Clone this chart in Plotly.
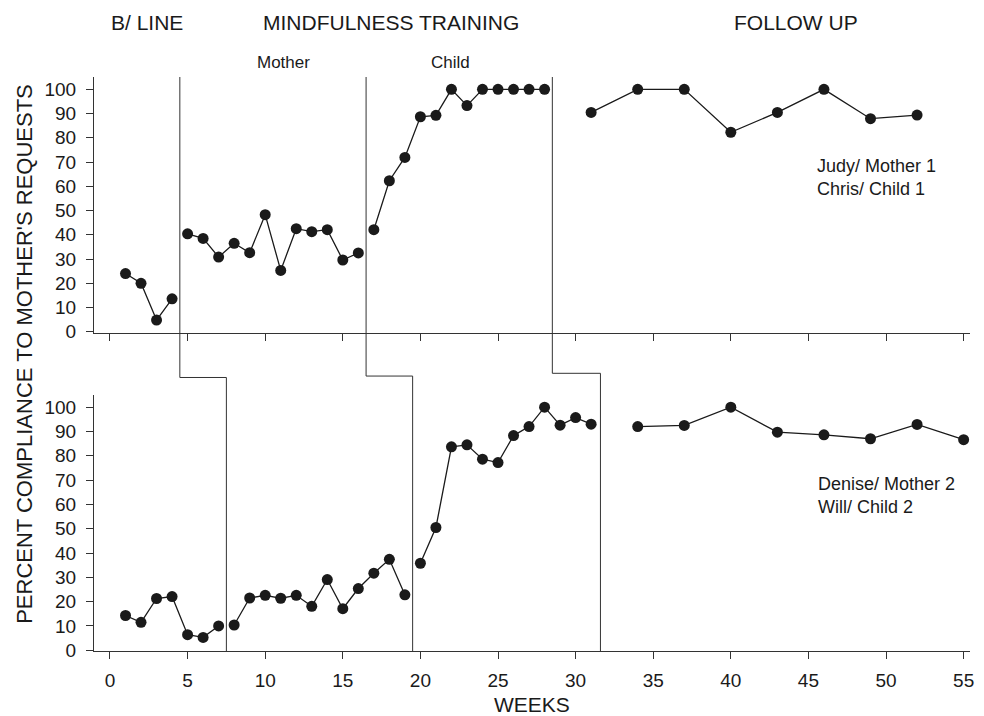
import plotly.graph_objects as go

# ---------------- data ----------------
# Judy / Chris (top panel)
top_base_weeks = [1, 2, 3, 4]
top_base_vals = [24, 20, 4.8, 13.6]
top_mother_weeks = [5, 6, 7, 8, 9, 10, 11, 12, 13, 14, 15, 16]
top_mother_vals = [40.4, 38.5, 30.8, 36.5, 32.6, 48.3, 25.3, 42.5, 41.3, 42.1, 29.6, 32.5]
top_child_weeks = [17, 18, 19, 20, 21, 22, 23, 24, 25, 26, 27, 28]
top_child_vals = [42.1, 62.3, 71.9, 88.7, 89.3, 100, 93.3, 100, 100, 100, 100, 100]
top_follow_weeks = [31, 34, 37, 40, 43, 46, 49, 52]
top_follow_vals = [90.5, 100, 100, 82.3, 90.5, 100, 87.9, 89.4]

# Denise / Will (bottom panel)
bot_base_weeks = [1, 2, 3, 4, 5, 6, 7]
bot_base_vals = [14.3, 11.5, 21.3, 22.1, 6.4, 5.3, 10.0]
bot_mother_weeks = [8, 9, 10, 11, 12, 13, 14, 15, 16, 17, 18, 19]
bot_mother_vals = [10.4, 21.5, 22.6, 21.4, 22.6, 18.1, 29.1, 17.1, 25.4, 31.7, 37.4, 22.8]
bot_child_weeks = [20, 21, 22, 23, 24, 25, 26, 27, 28, 29, 30, 31]
bot_child_vals = [35.8, 50.5, 83.7, 84.5, 78.6, 77.2, 88.3, 92.0, 100, 92.6, 95.7, 93.0]
bot_follow_weeks = [34, 37, 40, 43, 46, 49, 52, 55]
bot_follow_vals = [92.0, 92.5, 100, 89.7, 88.6, 87.0, 92.9, 86.6]

# phase-change lines (weeks)
top_phase_lines = [4.5, 16.5, 28.5]
bot_phase_lines = [7.5, 19.5, 31.6]

x_ticks = [0, 5, 10, 15, 20, 25, 30, 35, 40, 45, 50, 55]
y_ticks = [0, 10, 20, 30, 40, 50, 60, 70, 80, 90, 100]

# ---------------- figure ----------------
FONT = "Liberation Sans, Arial, Helvetica, sans-serif"
INK = "#1a1a1a"

fig = go.Figure()

top_sets = [(top_base_weeks, top_base_vals), (top_mother_weeks, top_mother_vals),
            (top_child_weeks, top_child_vals), (top_follow_weeks, top_follow_vals)]
bot_sets = [(bot_base_weeks, bot_base_vals), (bot_mother_weeks, bot_mother_vals),
            (bot_child_weeks, bot_child_vals), (bot_follow_weeks, bot_follow_vals)]

for xs, ys in top_sets:
    fig.add_trace(go.Scatter(x=xs, y=ys, mode="lines+markers", xaxis="x", yaxis="y",
                             line=dict(color=INK, width=1.3),
                             marker=dict(size=11, color=INK), showlegend=False))
for xs, ys in bot_sets:
    fig.add_trace(go.Scatter(x=xs, y=ys, mode="lines+markers", xaxis="x2", yaxis="y2",
                             line=dict(color=INK, width=1.3),
                             marker=dict(size=11, color=INK), showlegend=False))

axis_common = dict(showline=True, linecolor="#333", linewidth=1, ticks="outside",
                   ticklen=7, tickwidth=1, tickcolor="#333", showgrid=False,
                   zeroline=False, automargin=False,
                   tickfont=dict(family=FONT, size=19, color=INK))

# the page body adds an 8px offset; size the figure so it fills the window
fig.update_layout(
    width=976, height=708,
    margin=dict(l=86, r=14, t=69, b=65),
    paper_bgcolor="white", plot_bgcolor="white",
    font=dict(family=FONT, color=INK),
    xaxis=dict(domain=[0, 1], anchor="y", range=[-1.03, 55.41], tickvals=x_ticks,
               showticklabels=False, **axis_common),
    yaxis=dict(domain=[0.5545, 1], anchor="x", range=[-0.4, 105.1], tickvals=y_ticks,
               ticklabelstandoff=6, **axis_common),
    xaxis2=dict(domain=[0, 1], anchor="y2", range=[-1.03, 55.41], tickvals=x_ticks,
                ticklabelstandoff=5, **axis_common),
    yaxis2=dict(domain=[0, 0.446], anchor="x2", range=[-0.3, 105.0], tickvals=y_ticks,
                ticklabelstandoff=6, **axis_common),
)

# phase-change step lines
step_levels = [0.4765, 0.479, 0.4838]
shapes = []
for t, b, s in zip(top_phase_lines, bot_phase_lines, step_levels):
    ln = dict(color="#333", width=1)
    shapes.append(dict(type="line", xref="x", yref="paper", x0=t, x1=t, y0=1.0, y1=s, line=ln))
    shapes.append(dict(type="line", xref="x", yref="paper", x0=t, x1=b, y0=s, y1=s, line=ln))
    shapes.append(dict(type="line", xref="x", yref="paper", x0=b, x1=b, y0=s, y1=0.0, line=ln))
fig.update_layout(shapes=shapes)

def ann(text, x, y, size, xanchor="center", yanchor="middle", align="center", angle=0):
    fig.add_annotation(text=text, x=x, y=y, xref="paper", yref="paper", showarrow=False,
                       xanchor=xanchor, yanchor=yanchor, align=align, textangle=angle,
                       font=dict(family=FONT, size=size, color=INK))

ann("B/ LINE", 0.0602, 1.0958, 21)
ann("MINDFULNESS TRAINING", 0.339, 1.0958, 21)
ann("FOLLOW UP", 0.8014, 1.0958, 21)
ann("Mother", 0.2161, 1.0244, 17)
ann("Child", 0.4064, 1.0244, 17)
ann("Judy/ Mother 1<br>Chris/ Child 1", 0.823, 0.825, 18, xanchor="left", align="left")
ann("Denise/ Mother 2<br>Will/ Child 2", 0.8242, 0.271, 18, xanchor="left", align="left")
ann("PERCENT COMPLIANCE TO MOTHER'S REQUESTS", -0.0797, 0.518, 22, angle=-90)
ann("WEEKS", 0.5, -0.094, 21)

fig.write_html("out.html")
